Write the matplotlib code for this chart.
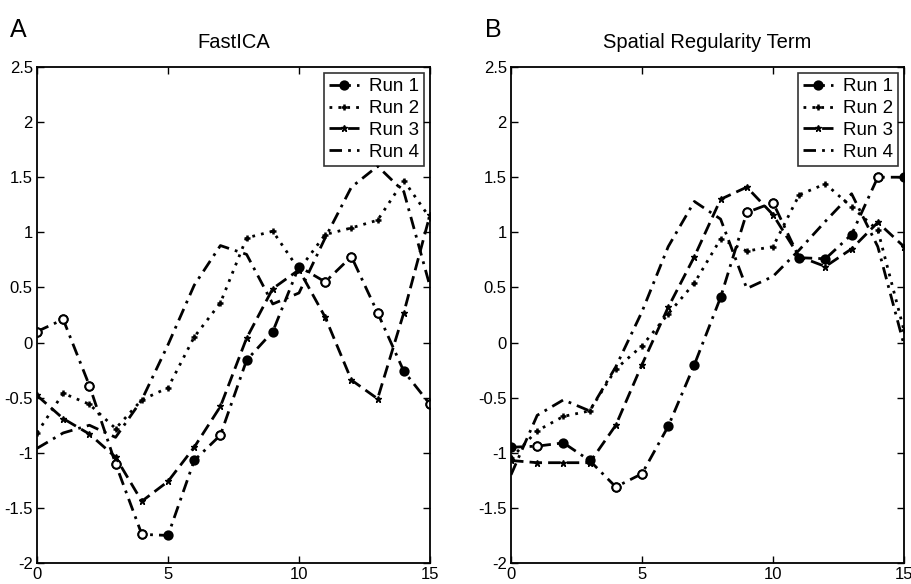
import numpy as np
import matplotlib
matplotlib.use("Agg")
import matplotlib.pyplot as plt

plt.rcParams['font.family'] = ['Liberation Sans', 'DejaVu Sans']

# x positions (component index)
x = list(range(16))

# Panel A - FastICA
fastica_run1 = [0.10, 0.21, -0.39, -1.10, -1.74, -1.75, -1.07, -0.84, -0.16, 0.10, 0.69, 0.55, 0.78, 0.27, -0.26, -0.56]
fastica_run2 = [-0.82, -0.46, -0.56, -0.78, -0.52, -0.41, 0.05, 0.36, 0.95, 1.01, 0.66, 0.98, 1.04, 1.11, 1.47, 1.13]
fastica_run3 = [-0.48, -0.69, -0.83, -1.04, -1.44, -1.26, -0.95, -0.58, 0.04, 0.49, 0.66, 0.23, -0.34, -0.51, 0.27, 1.16]
fastica_run4 = [-0.96, -0.82, -0.75, -0.86, -0.52, -0.02, 0.52, 0.88, 0.80, 0.35, 0.45, 0.95, 1.41, 1.60, 1.37, 0.51]
fastica_filled = [5, 6, 8, 9, 10, 14]

# Panel B - Spatial Regularity Term
spatial_run1 = [-0.95, -0.94, -0.91, -1.07, -1.31, -1.19, -0.76, -0.20, 0.41, 1.18, 1.27, 0.77, 0.76, 0.98, 1.50, 1.50]
spatial_run2 = [-1.05, -0.80, -0.67, -0.62, -0.24, -0.03, 0.26, 0.54, 0.94, 0.83, 0.87, 1.34, 1.44, 1.23, 1.02, 0.11]
spatial_run3 = [-1.07, -1.09, -1.09, -1.09, -0.75, -0.20, 0.32, 0.78, 1.30, 1.41, 1.16, 0.78, 0.69, 0.85, 1.09, 0.87]
spatial_run4 = [-1.20, -0.66, -0.52, -0.62, -0.22, 0.28, 0.87, 1.28, 1.12, 0.49, 0.60, 0.84, 1.10, 1.35, 0.87, -0.02]
spatial_filled = [0, 2, 3, 6, 7, 8, 11, 12, 13, 15]

labels = ['Run 1', 'Run 2', 'Run 3', 'Run 4']

fig = plt.figure(figsize=(9.11, 5.84), dpi=100)
W, H = 911, 584


def draw_panel(ax, runs, filled, title):
    r1, r2, r3, r4 = runs
    lw = 2.0
    dashdot = (0, (4.5, 2.2, 1.0, 2.2))
    open_idx = [i for i in range(len(r1)) if i not in filled]
    # run 1: dash-dot with circles (filled, some open)
    ax.plot(x, r1, color='k', lw=lw, linestyle=dashdot, marker='o', markersize=6,
            markeredgewidth=1.4, label=labels[0])
    ax.plot(x, r1, color='k', lw=0, marker='o', markersize=6, markerfacecolor='white',
            markeredgewidth=1.4, markevery=open_idx)
    ax.plot(x, r2, color='k', lw=lw, linestyle=(0, (1.0, 2.2)), marker='+', markersize=5,
            markeredgewidth=1.8, label=labels[1])
    ax.plot(x, r3, color='k', lw=lw, linestyle=(0, (4.5, 2.2)), marker='*', markersize=4.5,
            label=labels[2])
    ax.plot(x, r4, color='k', lw=lw, linestyle=dashdot, label=labels[3])

    ax.set_xlim(0, 15)
    ax.set_ylim(-2, 2.5)
    ax.set_xticks([0, 5, 10, 15])
    ax.set_yticks(np.arange(-2, 2.51, 0.5))
    ax.set_yticklabels(['-2', '-1.5', '-1', '-0.5', '0', '0.5', '1', '1.5', '2', '2.5'])
    ax.tick_params(direction='in', top=True, right=True, labelsize=12, length=5, width=1, pad=3)
    for s in ax.spines.values():
        s.set_linewidth(1.3)
    ax.set_title(title, fontsize=14.5, pad=14)
    leg = ax.legend(loc='upper right', fontsize=13.5, frameon=True, fancybox=False,
                    edgecolor='k', handlelength=1.6, handletextpad=0.5,
                    labelspacing=0.25, borderpad=0.3, borderaxespad=0.3)
    leg.get_frame().set_linewidth(1.2)


ax1 = fig.add_axes([37 / W, 1 - 563 / H, (430 - 37) / W, (563 - 67) / H])
ax2 = fig.add_axes([511 / W, 1 - 563 / H, (904 - 511) / W, (563 - 67) / H])

draw_panel(ax1, (fastica_run1, fastica_run2, fastica_run3, fastica_run4), fastica_filled, 'FastICA')
draw_panel(ax2, (spatial_run1, spatial_run2, spatial_run3, spatial_run4), spatial_filled, 'Spatial Regularity Term')

fig.text(10 / W, 1 - 30 / H, 'A', fontsize=18, va='center', ha='left')
fig.text(485 / W, 1 - 30 / H, 'B', fontsize=18, va='center', ha='left')

fig.savefig('out.png', dpi=100)
